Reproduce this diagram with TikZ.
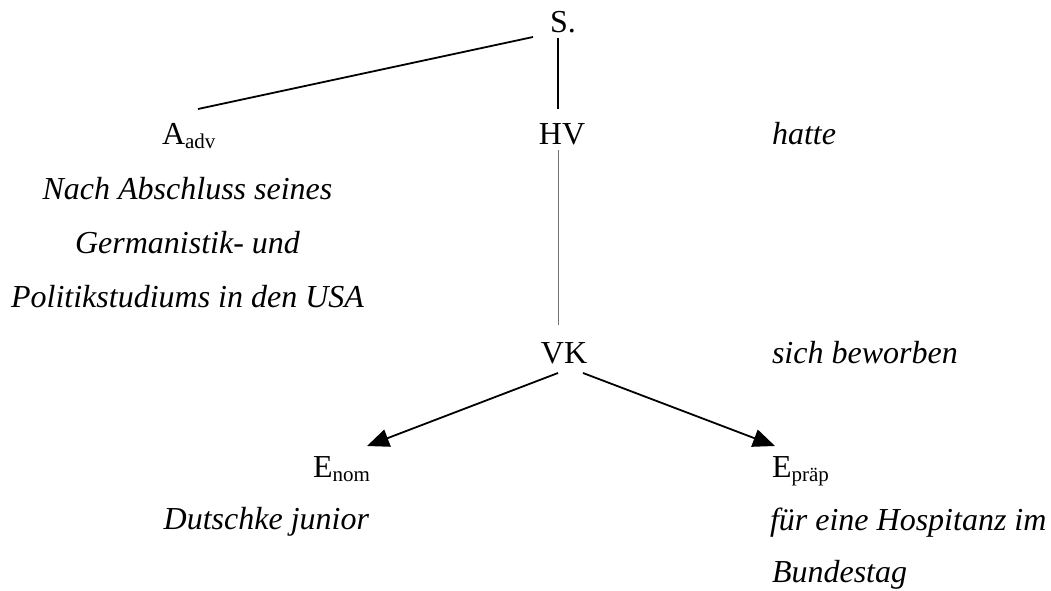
\documentclass[tikz,border=0pt]{standalone}
\usepackage{fontspec}
\setmainfont{Liberation Serif}
\usetikzlibrary{arrows.meta,calc}
\newcommand{\sbs}[1]{\raisebox{-4pt}{\fontsize{21}{21}\selectfont #1}}
\tikzset{
  lbl/.style={inner sep=0pt, outer sep=0pt, font=\fontsize{32}{38}\selectfont},
  ex/.style={inner sep=0pt, outer sep=0pt, font=\fontsize{32}{38}\selectfont\itshape},
  edgeline/.style={line width=1.8pt},
  thinline/.style={line width=0.9pt, black!55},
  arr/.style={line width=1.8pt, -{Triangle[length=22pt,width=18pt]}}
}
\begin{document}
\begin{tikzpicture}[x=1pt,y=1pt]
\useasboundingbox (0,0) rectangle (1051,-591);
% nodes
\node[lbl, anchor=base west] (S) at (550,-33) {S.};
\node[lbl, anchor=base west] (A) at (162,-144) {A\sbs{adv}};
\node[lbl, anchor=base] (HV) at (562,-144) {HV};
\node[ex, anchor=base west] (hatte) at (772,-144) {hatte};
\node[ex, anchor=base] (L1) at (187.5,-199) {Nach Abschluss seines};
\node[ex, anchor=base] (L2) at (187.5,-253) {Germanistik- und};
\node[ex, anchor=base] (L3) at (187.5,-307) {Politikstudiums in den USA};
\node[lbl, anchor=base] (VK) at (564,-363) {VK};
\node[ex, anchor=base west] (sich) at (772,-363) {sich beworben};
\node[lbl, anchor=base west] (En) at (313,-477) {E\sbs{nom}};
\node[lbl, anchor=base west] (Ep) at (772,-477) {E\sbs{präp}};
\node[ex, anchor=base east] (D) at (369,-529) {Dutschke junior};
\node[ex, anchor=base west] (F1) at (770,-530) {für eine Hospitanz im};
\node[ex, anchor=base west] (F2) at (772,-582) {Bundestag};
% connectors
\draw[edgeline] ($(S.base west)+(-17,-4)$) -- ($(A.base west)+(36,35)$);
\draw[edgeline] ($(S.base west)+(8,-5)$) -- ($(HV.base)+(-4,35)$);
\draw[thinline] ($(HV.base)+(-4,-6)$) -- ($(VK.base)+(-6,38)$);
\draw[arr] ($(VK.base)+(-6,-10)$) -- ($(En.base west)+(54,31)$);
\draw[arr] ($(VK.base)+(19,-10)$) -- ($(Ep.base west)+(3,31)$);
\end{tikzpicture}
\end{document}
